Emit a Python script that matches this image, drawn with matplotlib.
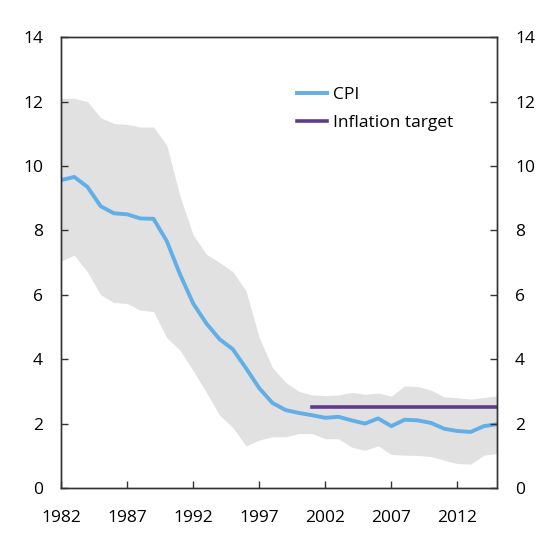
import matplotlib
matplotlib.use("Agg")
from matplotlib import pyplot as plt
import numpy as np

plt.rcParams['font.family'] = ['Open Sans', 'DejaVu Sans']

years = list(range(1982, 2016))

cpi = [9.56, 9.66, 9.35, 8.75, 8.53, 8.50, 8.37, 8.36, 7.67, 6.64,
       5.73, 5.11, 4.62, 4.31, 3.72, 3.10, 2.64, 2.42, 2.33, 2.26,
       2.18, 2.21, 2.10, 2.00, 2.16, 1.92, 2.12, 2.10, 2.02, 1.84,
       1.77, 1.74, 1.92, 1.98]

band_high = [12.10, 12.10, 12.00, 11.50, 11.32, 11.29, 11.21, 11.21, 10.65, 9.07,
             7.86, 7.26, 7.00, 6.72, 6.12, 4.67, 3.74, 3.28, 3.00, 2.89,
             2.87, 2.89, 2.97, 2.91, 2.95, 2.85, 3.17, 3.15, 3.04, 2.83,
             2.80, 2.76, 2.81, 2.86]

band_low = [7.05, 7.23, 6.71, 6.00, 5.76, 5.73, 5.52, 5.48, 4.67, 4.28,
            3.64, 2.97, 2.26, 1.88, 1.31, 1.49, 1.59, 1.59, 1.69, 1.69,
            1.53, 1.53, 1.27, 1.17, 1.31, 1.04, 1.02, 1.01, 0.98, 0.86,
            0.76, 0.74, 1.02, 1.07]

target_years = [2001, 2015]
target = [2.5, 2.5]

xticks = [1982, 1987, 1992, 1997, 2002, 2007, 2012]
yticks = [0, 2, 4, 6, 8, 10, 12, 14]

fig = plt.figure(figsize=(5.6, 5.6), dpi=100)
ax = fig.add_axes([0.109, 0.1286, 0.7786, 0.805])

ax.fill_between(years, band_low, band_high, color='#e1e1e1', lw=0)
ax.plot(years, cpi, color='#62aee6', lw=2.8, label='CPI')
ax.plot(target_years, target, color='#5e3b8f', lw=2.6, label='Inflation target')

ax.set_xlim(1982, 2015)
ax.set_ylim(0, 14)
ax.set_xticks(xticks)
ax.set_yticks(yticks)

ax2 = ax.twinx()
ax2.set_ylim(0, 14)
ax2.set_yticks(yticks)

for a in (ax, ax2):
    for s in a.spines.values():
        s.set_linewidth(1.0)
        s.set_color('#333333')
    a.tick_params(direction='in', length=5, width=1, labelsize=12.5, colors='#333333',
                  labelcolor='black')

ax.tick_params(axis='y', pad=13)
ax2.tick_params(axis='y', pad=13)
ax.tick_params(axis='x', pad=16)

ax.legend(loc='upper left', bbox_to_anchor=(0.505, 0.925), frameon=False,
          fontsize=12.5, handlelength=1.75, handletextpad=0.35, labelspacing=0.72)

fig.savefig('out.png', dpi=100)
